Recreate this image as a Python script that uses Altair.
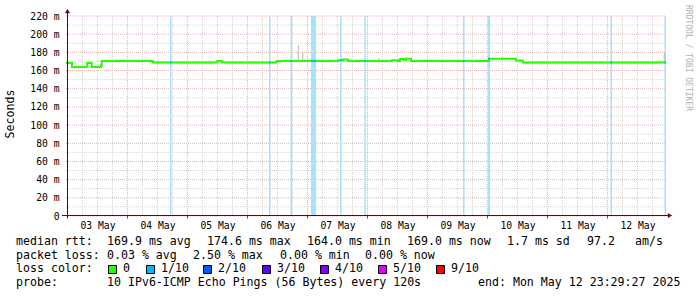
import json
import altair as alt
import pandas as pd

# ---------------- data ----------------
# median RTT, step function: hours since 03 May 00:00 -> ms
median_hours = [-0.6, 1.8, 7.9, 9.7, 13.4, 13.7, 34.1, 59.9, 61.7, 83.4, 83.8,
                108.3, 110.2, 112.2, 129.8, 132.2, 133.0, 134.6, 135.4, 137.4,
                168.6, 179.3, 182.1, 239.4]
median_ms = [168.4, 164.0, 168.4, 164.0, 165.5, 170.6, 168.8, 170.4, 168.8, 169.6, 170.6,
             171.3, 172.2, 170.6, 171.4, 170.6, 172.7, 171.6, 172.9, 170.6,
             173.0, 171.0, 168.8, 168.8]

# packet-loss events (1/10 pings lost)
loss_start = [41.0, 80.6, 89.2, 97.4, 109.0, 118.7, 158.2, 168.2, 217.2, 238.8]
loss_end = [41.6, 81.2, 89.8, 99.4, 109.6, 119.3, 158.8, 169.0, 217.8, 239.4]

# smoke (spread of individual pings)
smoke_hours = [92.3, 94.1, 105.0, 124.6, 173.7, 238.7]
smoke_low = [171.0, 171.0, 170.6, 170.6, 173.0, 168.8]
smoke_high = [188.0, 180.5, 172.5, 173.5, 174.6, 180.5]

day_labels = ["03 May", "04 May", "05 May", "06 May", "07 May",
              "08 May", "09 May", "10 May", "11 May", "12 May"]
label_hours = [12 + 24 * i for i in range(10)]
major_x = [24 * i for i in range(10)]
minor_x = [h for h in range(6, 240, 6) if h % 24 != 0]
major_y = list(range(0, 221, 20))
minor_y = list(range(10, 220, 20))

stats_rtt = {"avg": 169.9, "max": 174.6, "min": 164.0, "now": 169.0, "sd": 1.7, "ams": 97.2}
stats_loss = {"avg": 0.03, "max": 2.50, "min": 0.00, "now": 0.00}
loss_levels = ["0", "1/10", "2/10", "3/10", "4/10", "5/10", "9/10"]
loss_colors = ["#26ff00", "#00b8ff", "#0059ff", "#5e00ff", "#7e00ff", "#dd00ff", "#ff0000"]
probe_text = "10 IPv6-ICMP Echo Pings (56 Bytes) every 120s"
end_text = "end: Mon May 12 23:29:27 2025"

# ---------------- tables ----------------
med_df = pd.DataFrame({"h": median_hours, "ms": median_ms})
loss_df = pd.DataFrame({"h": loss_start, "h2": loss_end})


def median_at(t):
    v = median_ms[0]
    for hh, mm in zip(median_hours, median_ms):
        if hh <= t:
            v = mm
    return v


loss_med_df = pd.DataFrame({"h": loss_start, "h2": loss_end,
                            "ms": [median_at((a + b) / 2) for a, b in zip(loss_start, loss_end)]})
smoke_df = pd.DataFrame({"h": smoke_hours, "lo": smoke_low, "hi": smoke_high})
majx_df = pd.DataFrame({"h": major_x})
minx_df = pd.DataFrame({"h": minor_x})
majy_df = pd.DataFrame({"ms": major_y})
miny_df = pd.DataFrame({"ms": minor_y})
one = pd.DataFrame({"k": [0]})

MONO = "DejaVu Sans Mono"
W, H = 600, 200
xs = alt.Scale(domain=[-0.6, 239.4], nice=False, zero=False)
ys = alt.Scale(domain=[0, 220], nice=False, zero=True)

label_expr = json.dumps(day_labels) + "[floor(datum.value / 24)]"
XAX = alt.Axis(values=label_hours, labelExpr=label_expr, title=None, ticks=False, domain=False, grid=False,
               labelFont=MONO, labelFontSize=9.7, labelColor="black", labelPadding=4,
               labelOverlap=False, labelFlush=False)
YAX = alt.Axis(values=major_y, labelExpr="datum.value == 0 ? '0\u00a0\u00a0' : datum.value + ' m'",
               title=None, ticks=False, domain=False, grid=False,
               labelFont=MONO, labelFontSize=9.7, labelColor="black", labelPadding=7)


def X(f):
    return alt.X(f, scale=xs, axis=XAX)


def Y(f):
    return alt.Y(f, scale=ys, axis=YAX)


MINOR_C = "#d6d6d6"
MAJOR_C = "#e6b0b0"

layers = []
# grid
layers.append(alt.Chart(minx_df).mark_rule(color=MINOR_C, strokeDash=[1, 1], strokeWidth=1).encode(
    x=X("h:Q"), y=alt.value(0), y2=alt.value(H)))
layers.append(alt.Chart(miny_df).mark_rule(color=MINOR_C, strokeDash=[1, 1], strokeWidth=1).encode(
    y=Y("ms:Q"), x=alt.value(0), x2=alt.value(W)))
layers.append(alt.Chart(majx_df).mark_rule(color=MAJOR_C, strokeDash=[1, 1], strokeWidth=1).encode(
    x=X("h:Q"), y=alt.value(0), y2=alt.value(H)))
layers.append(alt.Chart(majy_df).mark_rule(color=MAJOR_C, strokeDash=[1, 1], strokeWidth=1).encode(
    y=Y("ms:Q"), x=alt.value(0), x2=alt.value(W)))
# loss bands
layers.append(alt.Chart(loss_df).mark_rect(color="#a8e2fa").encode(
    x=X("h:Q"), x2="h2:Q", y=alt.value(0), y2=alt.value(H)))
# smoke
layers.append(alt.Chart(smoke_df).mark_rule(color="#b4b4b4", strokeWidth=1).encode(
    x=X("h:Q"), y=Y("lo:Q"), y2="hi:Q"))
# median line
layers.append(alt.Chart(med_df).mark_line(color="#26ff00", strokeWidth=2, interpolate="step-after").encode(
    x=X("h:Q"), y=Y("ms:Q")))
# median coloured by loss
layers.append(alt.Chart(loss_med_df).mark_rule(color="#00b8ff", strokeWidth=2).encode(
    x=X("h:Q"), x2="h2:Q", y=Y("ms:Q")))
# x-axis day ticks
layers.append(alt.Chart(majx_df).mark_rule(color="#a04040", strokeWidth=1).encode(
    x=X("h:Q"), y=alt.value(H), y2=alt.value(H + 2.5)))
# axis lines
layers.append(alt.Chart(one).mark_rule(color="#222222", strokeWidth=1).encode(
    x=alt.value(1.5), y=alt.value(-6), y2=alt.value(H + 2)))
layers.append(alt.Chart(one).mark_rule(color="#222222", strokeWidth=1).encode(
    x=alt.value(-4), x2=alt.value(602), y=alt.value(H - 0.5)))
# arrows
layers.append(alt.Chart(one).mark_point(shape="triangle-up", filled=True, size=26, color="#7f0000", opacity=1).encode(
    x=alt.value(1.5), y=alt.value(-5)))
layers.append(alt.Chart(one).mark_point(shape="triangle-right", filled=True, size=26, color="#7f0000", opacity=1).encode(
    x=alt.value(604), y=alt.value(H - 0.5)))


def txt(s, x, y, size=11.6, color="black", angle=0, align="left"):
    return alt.Chart(one).mark_text(text=s, font=MONO, fontSize=size, color=color, angle=angle,
                                    align=align, baseline="middle").encode(
        x=alt.value(x), y=alt.value(y))


OX, OY = 66, 16
layers.append(txt("Seconds", 11 - OX, 114 - OY, size=11.6, angle=270, align="center"))
layers.append(txt("RRDTOOL / TOBI OETIKER", 688 - OX, 58 - OY, size=8, color="#b0b0b0", angle=90, align="center"))

r1, r2, r3, r4 = 241.7 - OY, 255.7 - OY, 269.3 - OY, 283.3 - OY
layers.append(txt("median rtt:", 16 - OX, r1))
layers.append(txt(f"{stats_rtt['avg']:.1f} ms avg", 107 - OX, r1))
layers.append(txt(f"{stats_rtt['max']:.1f} ms max", 207 - OX, r1))
layers.append(txt(f"{stats_rtt['min']:.1f} ms min", 307 - OX, r1))
layers.append(txt(f"{stats_rtt['now']:.1f} ms now", 407 - OX, r1))
layers.append(txt(f"{stats_rtt['sd']:.1f} ms sd", 507 - OX, r1))
layers.append(txt(f"{stats_rtt['ams']:.1f}", 587 - OX, r1))
layers.append(txt("am/s", 635 - OX, r1))

layers.append(txt("packet loss:", 16 - OX, r2))
layers.append(txt(f"{stats_loss['avg']:.2f} % avg", 107 - OX, r2))
layers.append(txt(f"{stats_loss['max']:.2f} % max", 193 - OX, r2))
layers.append(txt(f"{stats_loss['min']:.2f} % min", 280 - OX, r2))
layers.append(txt(f"{stats_loss['now']:.2f} % now", 365 - OX, r2))

layers.append(txt("loss color:", 16 - OX, r3))
box_x = [108.5, 146.5, 203.5, 262.5, 320.5, 378.5, 436.5]
for bx, lab, col in zip(box_x, loss_levels, loss_colors):
    layers.append(alt.Chart(one).mark_rect(fill=col, stroke="black", strokeWidth=1).encode(
        x=alt.value(bx - OX), x2=alt.value(bx + 8 - OX),
        y=alt.value(265.5 - OY), y2=alt.value(273.5 - OY)))
    layers.append(txt(lab, bx + 14.5 - OX, r3))

layers.append(txt("probe:", 16 - OX, r4))
layers.append(txt(probe_text, 107 - OX, r4))
layers.append(txt(end_text, 478 - OX, r4))

chart = alt.layer(*layers).properties(
    width=W, height=H,
    padding={"left": OX, "top": OY, "right": 697 - OX - W, "bottom": 297 - OY - H},
    autosize=alt.AutoSizeParams(type="none"),
    background="white",
).configure_view(stroke=None)

chart.save("out.html", embed_options={"renderer": "svg", "actions": False})
